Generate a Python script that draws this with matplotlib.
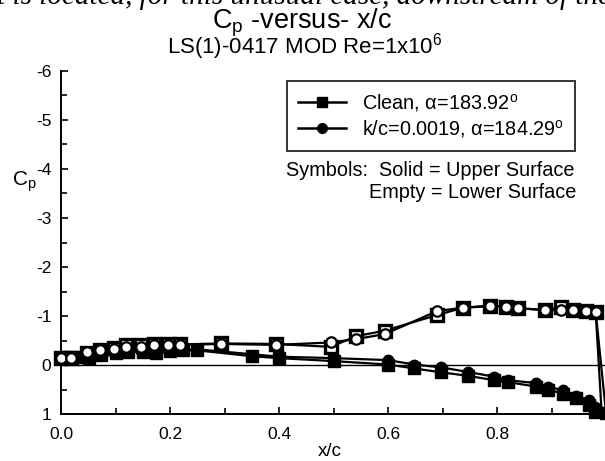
import matplotlib
matplotlib.use("Agg")
import matplotlib.pyplot as plt
from matplotlib.lines import Line2D

plt.rcParams['font.family'] = ['Liberation Sans', 'DejaVu Sans']
plt.rcParams['mathtext.fontset'] = 'custom'
plt.rcParams['mathtext.rm'] = 'Liberation Sans'
plt.rcParams['mathtext.it'] = 'Liberation Sans:italic'
plt.rcParams['mathtext.bf'] = 'Liberation Sans:bold'

# ---- data ----
clean_upper_x = [0.0, 0.013, 0.035, 0.052, 0.073, 0.1, 0.123, 0.15, 0.174, 0.2, 0.224, 0.249,
                 0.35, 0.4, 0.5, 0.6, 0.648, 0.698, 0.746, 0.795, 0.82, 0.872, 0.894, 0.922,
                 0.945, 0.968, 0.98, 1.0]
clean_upper_cp = [-0.15, -0.17, -0.16, -0.15, -0.2, -0.25, -0.27, -0.27, -0.24, -0.29, -0.3, -0.3,
                  -0.18, -0.14, -0.08, -0.01, 0.07, 0.15, 0.22, 0.31, 0.35, 0.44, 0.5, 0.59,
                  0.68, 0.82, 0.95, 0.97]
clean_lower_x = [0.0, 0.018, 0.047, 0.072, 0.098, 0.12, 0.146, 0.17, 0.196, 0.218, 0.293, 0.394,
                 0.495, 0.542, 0.594, 0.69, 0.738, 0.787, 0.816, 0.839, 0.888, 0.917, 0.94,
                 0.963, 0.981]
clean_lower_cp = [-0.15, -0.15, -0.25, -0.3, -0.35, -0.4, -0.4, -0.43, -0.42, -0.42, -0.44, -0.43,
                  -0.37, -0.59, -0.7, -1.02, -1.17, -1.21, -1.19, -1.16, -1.12, -1.18, -1.12,
                  -1.11, -1.09]
rough_upper_x = [0.0, 0.018, 0.047, 0.072, 0.098, 0.12, 0.146, 0.17, 0.196, 0.218, 0.25, 0.4,
                 0.5, 0.6, 0.648, 0.698, 0.746, 0.795, 0.82, 0.872, 0.894, 0.922, 0.945, 0.968,
                 0.98, 0.992]
rough_upper_cp = [-0.15, -0.16, -0.17, -0.2, -0.25, -0.28, -0.28, -0.28, -0.3, -0.3, -0.32, -0.17,
                  -0.14, -0.1, -0.01, 0.05, 0.14, 0.24, 0.31, 0.37, 0.44, 0.52, 0.63, 0.71,
                  0.85, 0.97]
rough_lower_x = [0.0, 0.018, 0.047, 0.072, 0.098, 0.12, 0.146, 0.17, 0.196, 0.218, 0.293, 0.394,
                 0.495, 0.542, 0.594, 0.69, 0.738, 0.787, 0.816, 0.839, 0.888, 0.917, 0.94,
                 0.963, 0.981]
rough_lower_cp = [-0.15, -0.15, -0.26, -0.31, -0.33, -0.37, -0.37, -0.41, -0.41, -0.41, -0.43, -0.41,
                  -0.46, -0.53, -0.63, -1.1, -1.17, -1.2, -1.19, -1.16, -1.12, -1.12, -1.12,
                  -1.11, -1.09]
clean_label = "Clean, α=183.92$^{\\mathrm{o}}$"
rough_label = "k/c=0.0019, α=184.29$^{\\mathrm{o}}$"

W, H = 605, 461
fig = plt.figure(figsize=(W / 100, H / 100), dpi=100)
ax = fig.add_axes([61 / W, 1 - 414 / H, 545 / W, (414 - 71) / H])

ax.axhline(0, color='black', lw=1.0, zorder=1)

def draw(ux, ucp, lx, lcp, marker, ms, mew):
    ax.plot(list(ux) + lx[::-1], list(ucp) + lcp[::-1], color='black', lw=1.6, zorder=2,
            clip_on=False)
    ax.plot(ux, ucp, ls='none', marker=marker, ms=ms, mfc='black', mec='black', zorder=3,
            clip_on=False)
    ax.plot(lx, lcp, ls='none', marker=marker, ms=ms, mfc='white', mec='black', mew=mew,
            zorder=3, clip_on=False)

draw(clean_upper_x, clean_upper_cp, clean_lower_x, clean_lower_cp, 's', 9, 2.4)
draw(rough_upper_x, rough_upper_cp, rough_lower_x, rough_lower_cp, 'o', 7.5, 1.6)

ax.set_xlim(0, 1.0)
ax.set_ylim(1, -6)
ax.set_xticks([0.0, 0.2, 0.4, 0.6, 0.8])
ax.set_xticklabels(['0.0', '0.2', '0.4', '0.6', '0.8'])
ax.set_xticks([0.1, 0.3, 0.5, 0.7, 0.9], minor=True)
ax.set_yticks([1, 0, -1, -2, -3, -4, -5, -6])
ax.set_yticklabels(['1', '0', '-1', '-2', '-3', '-4', '-5', '-6'])
ax.set_yticks([0.5, -0.5, -1.5, -2.5, -3.5, -4.5, -5.5], minor=True)
ax.tick_params(which='both', direction='in', labelsize=12.5, width=1.2)
ax.tick_params(axis='y', pad=7)
ax.tick_params(axis='x', pad=9)
ax.tick_params(which='major', length=5)
ax.tick_params(which='minor', length=4)
for s in ['top', 'right']:
    ax.spines[s].set_visible(False)
for s in ['left', 'bottom']:
    ax.spines[s].set_linewidth(1.4)

fig.text(330 / W, 1 - 451 / H, "x/c", ha='center', va='center', fontsize=13.5)
fig.text(24 / W, 1 - 182 / H, "C$_\\mathrm{p}$", ha='center', va='center', fontsize=15)

fig.text(302 / W, 1 - 23 / H, "C$_\\mathrm{p}$ -versus- x/c", ha='center', va='center',
         fontsize=19.5)
fig.text(305 / W, 1 - 47 / H, "LS(1)-0417 MOD Re=1x10$^{6}$", ha='center', va='center',
         fontsize=16)
fig.text(300 / W, 1 - 4 / H, "it is located, for this unusual case, downstream of the",
         ha='center', va='baseline', fontsize=21, family='Liberation Serif', style='italic')

handles = [Line2D([], [], color='black', lw=1.8, marker='s', ms=7, mfc='black'),
           Line2D([], [], color='black', lw=1.8, marker='o', ms=7, mfc='black')]
leg = fig.legend(handles, [clean_label, rough_label], loc='upper left',
                 bbox_to_anchor=(287 / W, 1 - 81 / H), fontsize=14.3, frameon=True,
                 fancybox=False, edgecolor='black', handlelength=2.4, handletextpad=0.85,
                 borderpad=0.55, labelspacing=0.2, borderaxespad=0)
leg.get_frame().set_linewidth(1.4)

fig.text(575 / W, 1 - 170 / H, "Symbols:  Solid = Upper Surface", ha='right', va='center',
         fontsize=14.3)
fig.text(576 / W, 1 - 193 / H, "Empty = Lower Surface", ha='right', va='center',
         fontsize=14.3)

fig.savefig("out.png", dpi=100)
